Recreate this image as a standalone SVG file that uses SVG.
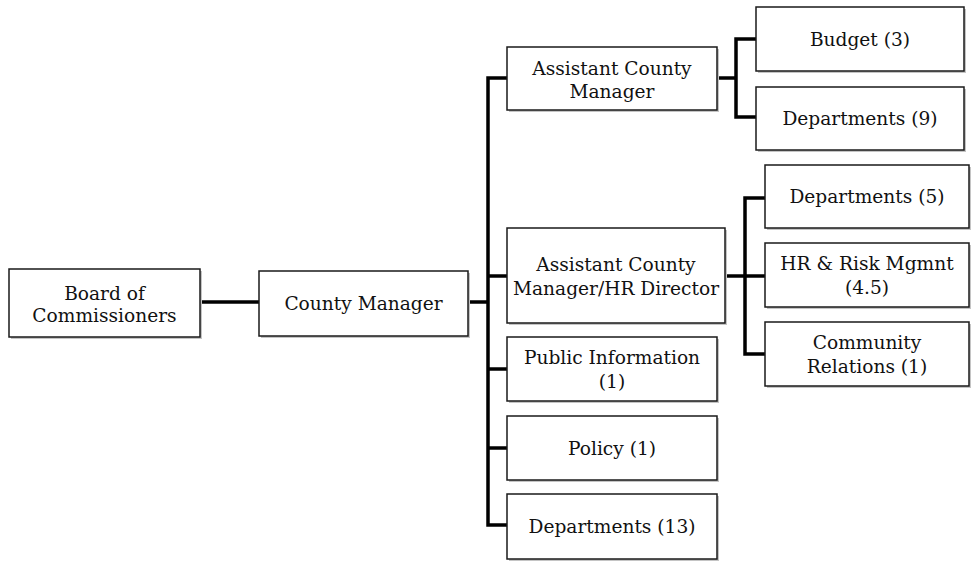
<svg xmlns="http://www.w3.org/2000/svg" width="971" height="561" viewBox="0 0 971 561">
<style>
.box{fill:#fff;stroke:#1a1a1a;stroke-width:1.5}
.sh{fill:#c4c4c4}
.t{font-family:"DejaVu Serif","Liberation Serif",serif;font-size:18.6px;fill:#111;text-anchor:middle}
.c{fill:none;stroke:#000;stroke-width:3.5;stroke-linejoin:miter}
</style>
<rect width="971" height="561" fill="#fff"/>
<g id="connectors">
<path class="c" d="M200 302H259"/>
<path class="c" d="M468 302H488"/>
<path class="c" d="M507 78H488V525H507"/>
<path class="c" d="M488 276H507"/>
<path class="c" d="M488 369H507"/>
<path class="c" d="M488 448H507"/>
<path class="c" d="M717 78H736"/>
<path class="c" d="M756 39H736V117H756"/>
<path class="c" d="M725 276H765"/>
<path class="c" d="M765 198H745V354H765"/>
</g>
<g id="board">
<rect class="sh" x="11" y="271" width="191" height="68"/>
<rect class="box" x="9" y="269" width="191" height="68"/>
<text class="t" x="104.5" y="300">Board of</text>
<text class="t" x="104.5" y="322">Commissioners</text>
</g>
<g id="county-manager">
<rect class="sh" x="261" y="273" width="209" height="65"/>
<rect class="box" x="259" y="271" width="209" height="65"/>
<text class="t" x="363.5" y="310">County Manager</text>
</g>
<g id="acm">
<rect class="sh" x="509" y="49" width="210" height="63"/>
<rect class="box" x="507" y="47" width="210" height="63"/>
<text class="t" x="612" y="75">Assistant County</text>
<text class="t" x="612" y="98">Manager</text>
</g>
<g id="budget">
<rect class="sh" x="758" y="9" width="208" height="64"/>
<rect class="box" x="756" y="7" width="208" height="64"/>
<text class="t" x="860" y="46">Budget (3)</text>
</g>
<g id="dept9">
<rect class="sh" x="758" y="89" width="208" height="63"/>
<rect class="box" x="756" y="87" width="208" height="63"/>
<text class="t" x="860" y="125">Departments (9)</text>
</g>
<g id="acm-hr">
<rect class="sh" x="509" y="230" width="218" height="95"/>
<rect class="box" x="507" y="228" width="218" height="95"/>
<text class="t" x="616" y="271">Assistant County</text>
<text class="t" x="616" y="295">Manager/HR Director</text>
</g>
<g id="dept5">
<rect class="sh" x="767" y="167" width="204" height="63"/>
<rect class="box" x="765" y="165" width="204" height="63"/>
<text class="t" x="867" y="203">Departments (5)</text>
</g>
<g id="hr-risk">
<rect class="sh" x="767" y="245" width="204" height="64"/>
<rect class="box" x="765" y="243" width="204" height="64"/>
<text class="t" x="867" y="270">HR &amp; Risk Mgmnt</text>
<text class="t" x="867" y="294">(4.5)</text>
</g>
<g id="community">
<rect class="sh" x="767" y="324" width="204" height="64"/>
<rect class="box" x="765" y="322" width="204" height="64"/>
<text class="t" x="867" y="349">Community</text>
<text class="t" x="867" y="373">Relations (1)</text>
</g>
<g id="public-info">
<rect class="sh" x="509" y="339" width="210" height="64"/>
<rect class="box" x="507" y="337" width="210" height="64"/>
<text class="t" x="612" y="364">Public Information</text>
<text class="t" x="612" y="388">(1)</text>
</g>
<g id="policy">
<rect class="sh" x="509" y="418" width="210" height="64"/>
<rect class="box" x="507" y="416" width="210" height="64"/>
<text class="t" x="612" y="455">Policy (1)</text>
</g>
<g id="dept13">
<rect class="sh" x="509" y="496" width="210" height="65"/>
<rect class="box" x="507" y="494" width="210" height="65"/>
<text class="t" x="612" y="533">Departments (13)</text>
</g>
</svg>
